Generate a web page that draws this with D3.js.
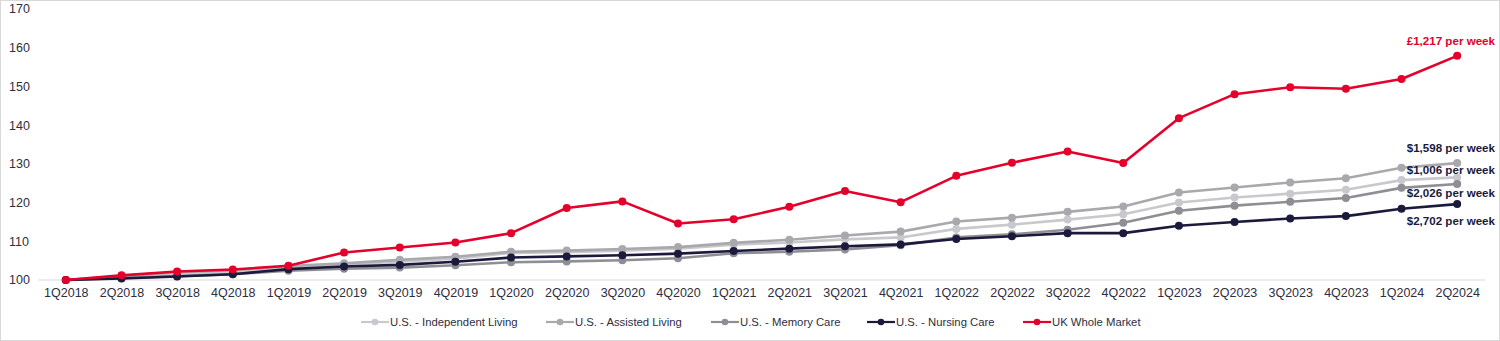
<!DOCTYPE html>
<html><head><meta charset="utf-8">
<script src="https://cdn.jsdelivr.net/npm/d3@7"></script>
<style>
html,body{margin:0;padding:0;background:#fff;}
svg{display:block;font-family:"Liberation Sans",Arial,sans-serif;}
</style></head>
<body>
<svg id="chart" width="1500" height="341"></svg>
<script>
const quarters = ["1Q2018","2Q2018","3Q2018","4Q2018","1Q2019","2Q2019","3Q2019","4Q2019","1Q2020","2Q2020","3Q2020","4Q2020","1Q2021","2Q2021","3Q2021","4Q2021","1Q2022","2Q2022","3Q2022","4Q2022","1Q2023","2Q2023","3Q2023","4Q2023","1Q2024","2Q2024"];
const independentLiving = [100,100.8,101.6,102.1,103.2,104.0,104.7,105.5,107.0,107.2,107.6,108.1,109.1,109.7,110.5,111.0,113.2,114.3,115.6,117.0,120.0,121.3,122.3,123.3,125.8,126.5];
const assistedLiving = [100,101.0,102.0,102.5,103.6,104.3,105.2,106.0,107.3,107.6,108.0,108.5,109.6,110.4,111.5,112.5,115.1,116.1,117.6,119.0,122.6,123.9,125.2,126.3,129.0,130.2];
const memoryCare = [100,100.5,101.0,101.5,102.4,102.9,103.2,103.8,104.6,104.8,105.1,105.6,106.9,107.3,107.9,109.0,111.0,111.8,113.0,114.8,117.9,119.2,120.2,121.2,123.8,124.8];
const nursingCare = [100,100.4,100.9,101.5,102.8,103.5,103.9,104.7,105.8,106.1,106.4,106.8,107.5,108.1,108.7,109.2,110.6,111.3,112.1,112.1,114.0,115.0,115.9,116.5,118.4,119.6];
const ukWholeMarket = [100,101.2,102.2,102.7,103.7,107.1,108.4,109.7,112.1,118.6,120.3,114.6,115.7,118.9,123.0,120.1,126.9,130.3,133.2,130.2,141.8,148.0,149.8,149.4,151.9,157.9];
const seriesNames = ["U.S. - Independent Living","U.S. - Assisted Living","U.S. - Memory Care","U.S. - Nursing Care","UK Whole Market"];
const endLabels = ["$1,006 per week","$1,598 per week","$2,026 per week","$2,702 per week","£1,217 per week"];
const yTicks = [100,110,120,130,140,150,160,170];

const colors = ["#c9c9cd","#a9a9ad","#8e8e94","#1b1a3c","#e4002b"];
const seriesValues = [independentLiving, assistedLiving, memoryCare, nursingCare, ukWholeMarket];
const series = seriesNames.map((n,i)=>({name:n, values:seriesValues[i], color:colors[i], label:endLabels[i]}));

const svg = d3.select("#chart");
svg.append("rect").attr("x",0.5).attr("y",0.5).attr("width",1499).attr("height",340)
  .attr("fill","#fff").attr("stroke","#d9d9d9");

const x = d3.scalePoint().domain(quarters).range([38,1485]).padding(0.5);
const y = d3.scaleLinear().domain([100,170]).range([280,9]);

svg.append("g").selectAll("text").data(yTicks).join("text")
  .attr("x",9).attr("y",d=>y(d)).attr("dy","0.35em")
  .attr("font-size",12.5).attr("fill","#2e2e3e").text(d=>d);

svg.append("line").attr("x1",38).attr("x2",1485).attr("y1",y(100)).attr("y2",y(100))
  .attr("stroke","#d9d9d9").attr("stroke-width",1);

const xAxis = d3.axisBottom(x).tickSize(0).tickPadding(8);
const gx = svg.append("g").attr("transform",`translate(0,${y(100)})`).call(xAxis);
gx.select(".domain").remove();
gx.selectAll("text").attr("font-size",12.5).attr("fill","#2e2e3e").attr("font-family","Liberation Sans, Arial, sans-serif");

const line = d3.line().x((d,i)=>x(quarters[i])).y(d=>y(d));

series.forEach(s=>{
  const g = svg.append("g");
  g.append("path").datum(s.values).attr("d",line).attr("fill","none")
    .attr("stroke",s.color).attr("stroke-width",2.6).attr("stroke-linejoin","round");
  g.selectAll("circle").data(s.values).join("circle")
    .attr("cx",(d,i)=>x(quarters[i])).attr("cy",d=>y(d)).attr("r",4).attr("fill",s.color);
});

const labelPos = [
  {i:0, y:169.5},{i:1, y:148},{i:2, y:192.5},{i:3, y:221},{i:4, y:41}
];
labelPos.forEach(p=>{
  const s = series[p.i];
  svg.append("text").attr("x",1495).attr("y",p.y).attr("dy","0.35em")
    .attr("text-anchor","end").attr("font-weight","bold").attr("font-size",11.6)
    .attr("fill", p.i===4 ? "#e4002b" : "#1b1a3c").text(s.label);
});

const legendX = [361,546,711,867,1023];
const lg = svg.append("g");
series.forEach((s,i)=>{
  const g = lg.append("g").attr("transform",`translate(${legendX[i]},322)`);
  g.append("line").attr("x1",0).attr("x2",28).attr("y1",0).attr("y2",0)
    .attr("stroke",s.color).attr("stroke-width",2.2);
  g.append("circle").attr("cx",14).attr("cy",0).attr("r",3.3).attr("fill",s.color);
  g.append("text").attr("x",29).attr("y",0).attr("dy","0.35em").attr("font-size",11.3)
    .attr("fill","#2e2e3e").text(s.name);
});
</script>
</body></html>
